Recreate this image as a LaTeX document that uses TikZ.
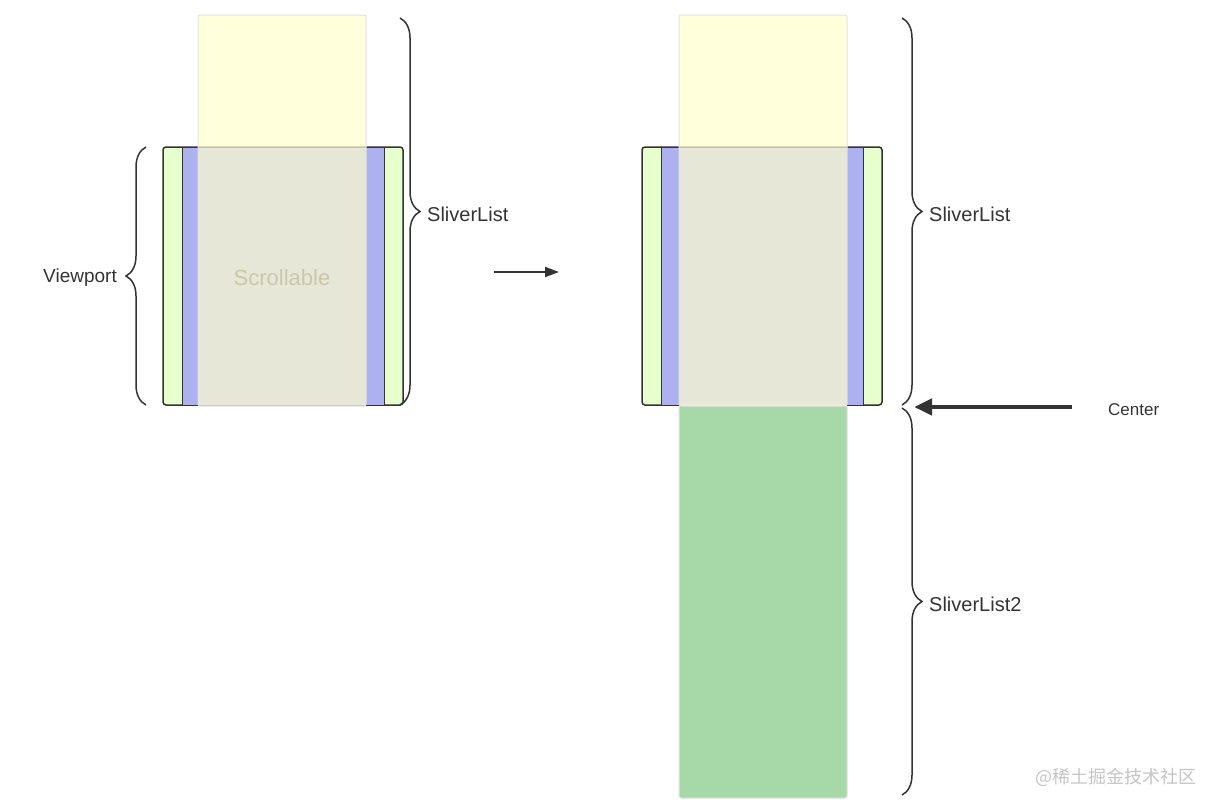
\documentclass[tikz,border=0pt]{standalone}
\usepackage{fontspec}
\setmainfont{Liberation Sans}
\newfontfamily\cjkfont{Noto Sans CJK SC}
\usepackage{xcolor}
\usepackage{tikz}
\usetikzlibrary{arrows.meta,positioning,decorations.pathreplacing}
\definecolor{PortGreen}{HTML}{E6FFCC}
\definecolor{PortBlue}{HTML}{ADB1F0}
\definecolor{ListYellow}{HTML}{FFFFCC}
\definecolor{ListGreen}{HTML}{A6D8A8}
\definecolor{InkDark}{HTML}{333333}
\definecolor{EdgeGray}{HTML}{E2E2E2}
\definecolor{MarkGray}{HTML}{C4C4C4}
\definecolor{ScrollInk}{HTML}{C9C9A9}

\begin{document}
\begin{tikzpicture}[x=1pt, y=-1pt, font=\fontsize{19}{22}\selectfont,
  vport/.style={draw=InkDark, fill=PortGreen, line width=1.5pt, rounded corners=3pt,
                minimum width=240pt, minimum height=258pt, inner sep=0pt, outer sep=0pt},
  vbar/.style={draw=InkDark, fill=PortBlue, line width=1pt,
               minimum width=202pt, minimum height=258pt, inner sep=0pt, outer sep=0pt},
  slist/.style={draw=EdgeGray, fill=ListYellow, fill opacity=0.7, line width=1pt,
                rounded corners=2pt, minimum width=168pt, minimum height=391pt,
                inner sep=0pt, outer sep=0pt},
  slist2/.style={draw=EdgeGray, fill=ListGreen, line width=1pt, rounded corners=2pt,
                 minimum width=168pt, minimum height=393pt, inner sep=0pt, outer sep=0pt},
  brc/.style={draw=InkDark, line width=1.5pt, decorate,
              decoration={brace, amplitude=20pt}},
  lbl/.style={text=InkDark, inner sep=0pt},
]
\useasboundingbox (0,0) rectangle (1218,809);

%% ---- viewports, left and right ----
\foreach \n/\x in {1/283,2/762} {
  \node[vport] (vp\n) at (\x,276) {};
  \node[vbar] (vb\n) at (\x,276) {};
}
\node[slist2] (sl3) at (763,601.5) {};
\foreach \n/\x in {1/282,2/763} \node[slist] (sl\n) at (\x,210.5) {};
\node[text=ScrollInk, font=\fontsize{22}{25}\selectfont] (scr) at (282,278) {Scrollable};

%% ---- braces ----
\coordinate (v1a) at (146,405);   \coordinate (v1b) at (146,147);
\coordinate (s1a) at (400,18);    \coordinate (s1b) at (400,405);
\coordinate (s2a) at (902,18);    \coordinate (s2b) at (902,405);
\coordinate (s3a) at (902,408);   \coordinate (s3b) at (902,795);
\draw[brc] (v1a) -- (v1b);
\draw[brc] (s1a) -- (s1b);
\draw[brc] (s2a) -- (s2b);
\draw[brc] (s3a) -- (s3b);

\node[lbl, anchor=east] (vpl) at (117,278) {Viewport};
\node[lbl, anchor=west, font=\fontsize{20}{23}\selectfont] (sll1) at (427,214) {SliverList};
\node[lbl, anchor=west, font=\fontsize{20}{23}\selectfont] (sll2) at (929,214) {SliverList};
\node[lbl, anchor=west, font=\fontsize{20}{23}\selectfont] (sll3) at (929,604) {SliverList2};

%% ---- arrows ----
\coordinate (go0) at (494,272);
\coordinate (go1) at (559,272);
\draw[line width=2pt, InkDark, -{Triangle[length=14pt,width=10pt]}] (go0) -- (go1);

\node[lbl, anchor=west, font=\fontsize{17}{20}\selectfont] (ctr) at (1108,410) {Center};
\coordinate (ctr0) at (1072,407);
\coordinate (ctr1) at (914,407);
\draw[line width=4.5pt, InkDark, -{Triangle[length=18pt,width=16pt]}] (ctr0) -- (ctr1);

%% ---- watermark ----
\node[anchor=west, inner sep=0pt, text=MarkGray, font=\cjkfont\fontsize{18}{20}\selectfont]
  (wm) at (1035,777) {@稀土掘金技术社区};
\end{tikzpicture}
\end{document}
